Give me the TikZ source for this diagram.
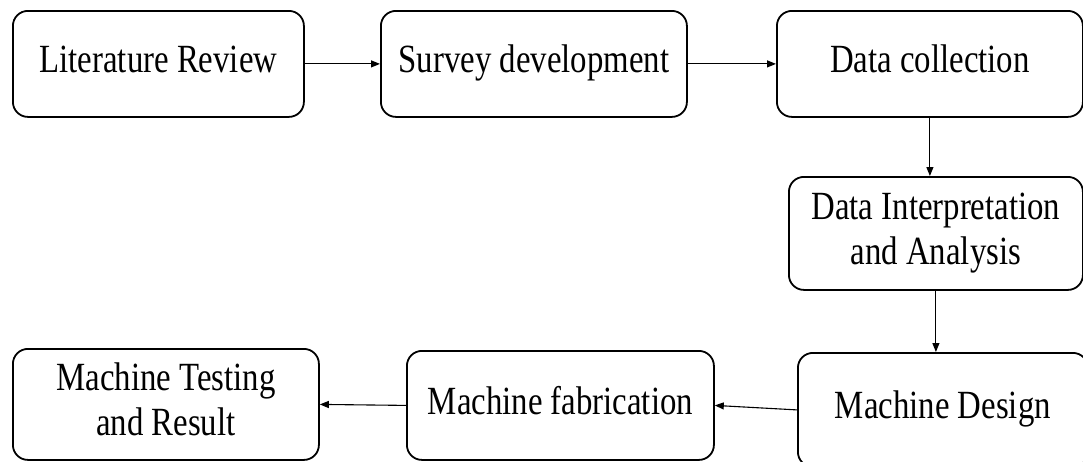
\documentclass[tikz,border=0pt]{standalone}
\usepackage{fontspec}
\setmainfont{Liberation Serif}
\usepackage{graphicx}
\usetikzlibrary{arrows.meta}
\newcommand{\boxtext}[1]{\scalebox{0.82}[1]{\begin{tabular}{@{}c@{}}#1\end{tabular}}}
\tikzset{
  stepbox/.style={draw, line width=1.8pt, rounded corners=15pt, inner sep=0pt,
    anchor=north west, font=\fontsize{40}{45}\selectfont},
  link/.style={line width=1.1pt, -{Triangle[length=9pt,width=7pt]}}
}
\begin{document}
\begin{tikzpicture}[x=1pt,y=-1pt]
\useasboundingbox (0,0) rectangle (1083,461);
\clip (0,0) rectangle (1083,461);
\node[stepbox, minimum width=291pt, minimum height=106pt] (b1) at (12,10) {\boxtext{Literature Review}};
\node[stepbox, minimum width=306pt, minimum height=106pt] (b2) at (380,10) {\boxtext{Survey development}};
\node[stepbox, minimum width=306pt, minimum height=106pt] (b3) at (776,10) {\boxtext{Data collection}};
\node[stepbox, minimum width=294pt, minimum height=113pt] (b4) at (788,176) {\boxtext{Data Interpretation\\ and Analysis}};
\node[stepbox, minimum width=290pt, minimum height=114pt] (b5) at (797,352) {\boxtext{Machine Design}};
\node[stepbox, minimum width=307pt, minimum height=109pt] (b6) at (406,350) {\boxtext{Machine fabrication}};
\node[stepbox, minimum width=306pt, minimum height=111pt] (b7) at (12,348) {\boxtext{Machine Testing\\ and Result}};
\draw[link] (b1.east) -- (b2.west);
\draw[link] (b2.east) -- (b3.west);
\draw[link] (b3.south) -- (b3.south |- b4.north);
\draw[link] (b4.south) -- (b4.south |- b5.north);
\draw[link] (b5.west) -- (b6.east);
\draw[link] (b6.west) -- (b7.east);
\end{tikzpicture}
\end{document}
